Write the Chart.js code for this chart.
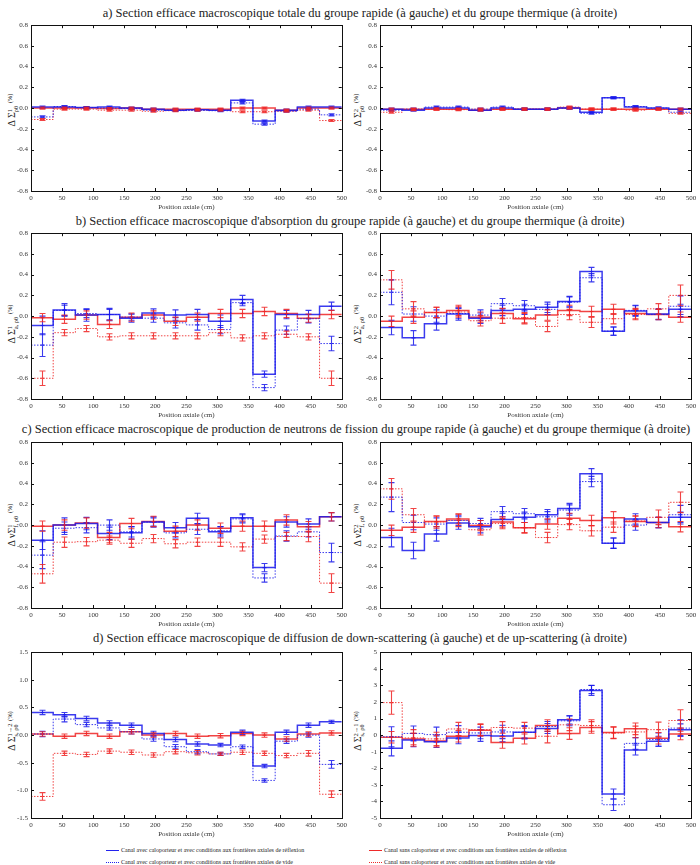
<!DOCTYPE html>
<html>
<head>
<meta charset="utf-8">
<script src="https://cdn.jsdelivr.net/npm/chart.js@4.4.1/dist/chart.umd.min.js"></script>
<style>
  body { margin: 0; background: #fff; }
  #page { position: relative; width: 700px; height: 865px; overflow: hidden; font-family: "Liberation Serif", "DejaVu Serif", serif; color: #222; }
  canvas { position: absolute; }
  .title { position: absolute; width: 700px; text-align: center; font-size: 12.5px; white-space: nowrap; transform: translateY(-50%); }
  .ylab { position: absolute; white-space: nowrap; font-size: 10px; transform: translate(-50%, -50%) rotate(-90deg); }
  .ss { display: inline-block; vertical-align: middle; line-height: 0.95; font-size: 6.5px; text-align: left; }
  .ss span { display: block; }
  .pct { font-size: 6.5px; vertical-align: 3px; }
  .leg { position: absolute; font-size: 6px; white-space: nowrap; transform: translateY(-50%); }
  .leg i { display: inline-block; width: 13px; height: 0; vertical-align: middle; margin-right: 2px; }
</style>
</head>
<body>
<div id="page">
  <div class="title" style="left:10px;top:13px">a) Section efficace macroscopique totale du groupe rapide (à gauche) et du groupe thermique (à droite)</div>
  <div class="title" style="left:0px;top:221px">b) Section efficace macroscopique d'absorption du groupe rapide (à gauche) et du groupe thermique (à droite)</div>
  <div class="title" style="left:6px;top:429px">c) Section efficace macroscopique de production de neutrons de fission du groupe rapide (à gauche) et du groupe thermique (à droite)</div>
  <div class="title" style="left:10px;top:638px">d) Section efficace macroscopique de diffusion de down-scattering (à gauche) et de up-scattering (à droite)</div>

  <div class="ylab" style="left:12px;top:110px">Δ Σ<span class="ss"><span>1</span><span>ρθ</span></span> <span class="pct">(%)</span></div>
  <div class="ylab" style="left:358px;top:110px">Δ Σ<span class="ss"><span>2</span><span>ρθ</span></span> <span class="pct">(%)</span></div>
  <div class="ylab" style="left:12px;top:324px">Δ Σ<span class="ss"><span>1</span><span>a, ρθ</span></span> <span class="pct">(%)</span></div>
  <div class="ylab" style="left:358px;top:324px">Δ Σ<span class="ss"><span>2</span><span>a, ρθ</span></span> <span class="pct">(%)</span></div>
  <div class="ylab" style="left:12px;top:525px">Δ νΣ<span class="ss"><span>1</span><span>f, ρθ</span></span> <span class="pct">(%)</span></div>
  <div class="ylab" style="left:358px;top:525px">Δ νΣ<span class="ss"><span>2</span><span>f, ρθ</span></span> <span class="pct">(%)</span></div>
  <div class="ylab" style="left:12px;top:731px">Δ Σ<span class="ss"><span>1→2</span><span>s, ρθ</span></span> <span class="pct">(%)</span></div>
  <div class="ylab" style="left:358px;top:731px">Δ Σ<span class="ss"><span>2→1</span><span>s, ρθ</span></span> <span class="pct">(%)</span></div>

  <div class="leg" style="left:106px;top:850px"><i style="border-top:1.5px solid #2222ee"></i>Canal avec caloporteur et avec conditions aux frontières axiales de réflexion</div>
  <div class="leg" style="left:106px;top:862px"><i style="border-top:1px dotted #2222ee"></i>Canal avec caloporteur et avec conditions aux frontières axiales de vide</div>
  <div class="leg" style="left:369px;top:850px"><i style="border-top:1.5px solid #ee2a2a"></i>Canal sans caloporteur et avec conditions aux frontières axiales de réflexion</div>
  <div class="leg" style="left:369px;top:862px"><i style="border-top:1px dotted #ee2a2a"></i>Canal sans caloporteur et avec conditions aux frontières axiales de vide</div>
</div>
<script>
// --- DATA (position axiale en cm, écarts en %) ---
const binEdges = [0, 35.7, 71.4, 107.1, 142.9, 178.6, 214.3, 250, 285.7, 321.4, 357.1, 392.9, 428.6, 464.3, 500];
const binCenters = [17.9, 53.6, 89.3, 125, 160.7, 196.4, 232.1, 267.9, 303.6, 339.3, 375, 410.7, 446.4, 482.1];
const xTicks = [0, 50, 100, 150, 200, 250, 300, 350, 400, 450, 500];

// a) totale, groupe rapide
const a1AvecRefl = [0.01, 0.01, 0.005, 0.01, 0.0, -0.01, -0.02, -0.015, -0.02, 0.075, -0.125, -0.02, 0.01, 0.01];
const a1AvecVide = [-0.085, 0.015, 0.005, 0.0, -0.005, -0.02, -0.02, -0.02, -0.025, 0.05, -0.155, -0.03, -0.01, -0.065];
const a1SansRefl = [0.0, 0.0, 0.0, -0.005, 0.0, -0.01, -0.01, -0.01, -0.01, 0.0, 0.0, -0.02, 0.0, 0.0];
const a1SansVide = [-0.11, -0.01, -0.01, -0.02, -0.02, -0.03, -0.025, -0.02, -0.02, -0.035, -0.035, -0.03, -0.02, -0.12];
const a1Err = [0.01, 0.01, 0.01, 0.01, 0.01, 0.01, 0.01, 0.01, 0.01, 0.01, 0.01, 0.01, 0.01, 0.01];
// a) totale, groupe thermique
const a2AvecRefl = [-0.01, -0.02, 0.0, 0.0, -0.02, 0.0, -0.01, -0.01, 0.0, -0.04, 0.10, 0.01, 0.0, -0.01];
const a2AvecVide = [-0.02, -0.01, 0.01, 0.01, -0.01, 0.01, -0.01, -0.01, 0.0, -0.05, 0.10, 0.015, 0.0, -0.04];
const a2SansRefl = [-0.01, -0.01, -0.01, -0.01, -0.02, -0.01, -0.01, -0.01, 0.0, -0.01, -0.01, -0.01, -0.01, -0.01];
const a2SansVide = [-0.04, -0.015, -0.01, -0.015, -0.01, -0.01, -0.01, -0.01, 0.01, -0.01, -0.01, -0.02, -0.01, -0.05];
const a2Err = [0.01, 0.01, 0.01, 0.01, 0.01, 0.01, 0.01, 0.01, 0.01, 0.01, 0.01, 0.01, 0.01, 0.01];

// b) absorption, groupe rapide
const b1AvecRefl = [-0.09, 0.06, 0.01, 0.015, -0.02, 0.03, 0.01, 0.015, -0.05, 0.16, -0.56, 0.015, 0.015, 0.095];
const b1AvecReflErr = [0.09, 0.06, 0.06, 0.06, 0.04, 0.04, 0.05, 0.05, 0.06, 0.04, 0.03, 0.04, 0.04, 0.04];
const b1AvecVide = [-0.28, 0.055, 0.025, 0.015, -0.01, -0.02, -0.065, -0.085, -0.13, 0.13, -0.69, -0.135, -0.025, -0.265];
const b1AvecVideErr = [0.11, 0.05, 0.04, 0.05, 0.03, 0.04, 0.05, 0.05, 0.04, 0.03, 0.03, 0.04, 0.04, 0.07];
const b1SansRefl = [-0.015, -0.03, 0.01, -0.08, -0.01, 0.01, -0.05, -0.01, 0.025, 0.025, 0.045, 0.025, -0.02, 0.015];
const b1SansReflErr = [0.04, 0.04, 0.04, 0.04, 0.04, 0.04, 0.04, 0.04, 0.04, 0.04, 0.04, 0.04, 0.04, 0.04];
const b1SansVide = [-0.60, -0.16, -0.12, -0.20, -0.19, -0.19, -0.19, -0.19, -0.16, -0.21, -0.19, -0.175, -0.20, -0.60];
const b1SansVideErr = [0.07, 0.03, 0.03, 0.03, 0.03, 0.03, 0.03, 0.03, 0.03, 0.03, 0.03, 0.03, 0.03, 0.07];
// b) absorption, groupe thermique
const b2AvecRefl = [-0.11, -0.21, -0.075, 0.02, -0.02, 0.055, 0.065, 0.085, 0.14, 0.43, -0.145, 0.05, 0.02, 0.065];
const b2AvecReflErr = [0.07, 0.07, 0.06, 0.06, 0.05, 0.05, 0.05, 0.05, 0.05, 0.04, 0.04, 0.05, 0.05, 0.05];
const b2AvecVide = [0.23, 0.02, 0.0, 0.025, 0.01, 0.12, 0.10, 0.065, 0.135, 0.37, -0.145, 0.055, 0.015, 0.095];
const b2AvecVideErr = [0.12, 0.07, 0.06, 0.05, 0.05, 0.05, 0.05, 0.05, 0.05, 0.04, 0.04, 0.05, 0.05, 0.10];
const b2SansRefl = [-0.05, -0.01, 0.035, 0.055, -0.01, 0.025, -0.025, 0.01, 0.055, 0.045, 0.065, 0.025, 0.015, -0.01];
const b2SansReflErr = [0.05, 0.06, 0.05, 0.05, 0.05, 0.05, 0.05, 0.05, 0.05, 0.05, 0.05, 0.05, 0.05, 0.05];
const b2SansVide = [0.35, 0.07, 0.035, 0.04, -0.045, -0.02, -0.015, -0.10, 0.015, -0.06, -0.025, 0.015, 0.07, 0.20];
const b2SansVideErr = [0.09, 0.07, 0.05, 0.05, 0.05, 0.05, 0.05, 0.05, 0.05, 0.05, 0.05, 0.05, 0.05, 0.10];

// c) production de neutrons de fission, groupe rapide
const c1AvecRefl = [-0.145, 0.0, 0.015, -0.08, -0.075, 0.03, -0.025, 0.065, -0.065, 0.07, -0.41, 0.03, 0.01, 0.08];
const c1AvecReflErr = [0.09, 0.07, 0.06, 0.06, 0.06, 0.05, 0.05, 0.05, 0.05, 0.04, 0.04, 0.05, 0.05, 0.04];
const c1AvecVide = [-0.29, -0.03, -0.025, 0.0, -0.065, 0.03, -0.075, -0.04, -0.055, 0.06, -0.51, -0.105, -0.065, -0.265];
const c1AvecVideErr = [0.13, 0.06, 0.05, 0.05, 0.05, 0.04, 0.05, 0.05, 0.04, 0.04, 0.04, 0.05, 0.05, 0.09];
const c1SansRefl = [-0.01, 0.0, 0.02, -0.12, 0.015, 0.035, -0.06, 0.0, -0.03, -0.01, -0.01, 0.05, -0.015, 0.08];
const c1SansReflErr = [0.05, 0.05, 0.05, 0.05, 0.05, 0.05, 0.05, 0.05, 0.05, 0.05, 0.05, 0.05, 0.05, 0.04];
const c1SansVide = [-0.47, -0.165, -0.16, -0.145, -0.175, -0.13, -0.18, -0.165, -0.165, -0.21, -0.135, -0.11, -0.11, -0.56];
const c1SansVideErr = [0.09, 0.05, 0.04, 0.04, 0.04, 0.04, 0.04, 0.04, 0.04, 0.04, 0.04, 0.04, 0.05, 0.09];
// c) production de neutrons de fission, groupe thermique
const c2AvecRefl = [-0.12, -0.245, -0.085, 0.02, -0.015, 0.055, 0.075, 0.10, 0.16, 0.495, -0.175, 0.06, 0.025, 0.075];
const c2AvecReflErr = [0.09, 0.08, 0.07, 0.06, 0.06, 0.06, 0.05, 0.05, 0.05, 0.05, 0.05, 0.05, 0.05, 0.05];
const c2AvecVide = [0.27, 0.025, 0.01, 0.045, 0.015, 0.13, 0.11, 0.08, 0.145, 0.42, -0.175, 0.0, 0.025, 0.10];
const c2AvecVideErr = [0.14, 0.07, 0.06, 0.05, 0.05, 0.05, 0.05, 0.05, 0.05, 0.05, 0.05, 0.05, 0.05, 0.09];
const c2SansRefl = [-0.05, -0.02, 0.035, 0.06, -0.005, 0.03, -0.025, 0.01, 0.065, 0.045, 0.07, 0.035, 0.025, -0.015];
const c2SansReflErr = [0.05, 0.05, 0.05, 0.05, 0.05, 0.05, 0.05, 0.05, 0.05, 0.05, 0.06, 0.05, 0.05, 0.05];
const c2SansVide = [0.35, 0.10, 0.03, 0.045, -0.045, 0.015, -0.025, -0.12, 0.005, -0.055, -0.02, 0.04, 0.075, 0.22];
const c2SansVideErr = [0.10, 0.06, 0.06, 0.06, 0.05, 0.05, 0.05, 0.05, 0.05, 0.05, 0.05, 0.05, 0.07, 0.10];

// d) diffusion down-scattering (1->2)
const d1AvecRefl = [0.41, 0.37, 0.30, 0.22, 0.18, 0.03, -0.08, -0.16, -0.18, 0.05, -0.56, 0.05, 0.18, 0.24];
const d1AvecReflErr = [0.04, 0.04, 0.04, 0.04, 0.04, 0.04, 0.04, 0.04, 0.03, 0.04, 0.03, 0.04, 0.04, 0.03];
const d1AvecVide = [0.02, 0.29, 0.19, 0.13, 0.06, -0.07, -0.21, -0.30, -0.34, -0.21, -0.82, -0.11, 0.0, -0.53];
const d1AvecVideErr = [0.05, 0.05, 0.04, 0.04, 0.04, 0.04, 0.04, 0.04, 0.03, 0.03, 0.03, 0.04, 0.04, 0.07];
const d1SansRefl = [0.02, -0.02, 0.03, -0.02, 0.06, 0.0, 0.03, -0.02, -0.01, 0.03, 0.0, -0.07, 0.02, 0.04];
const d1SansReflErr = [0.04, 0.04, 0.04, 0.04, 0.04, 0.04, 0.04, 0.04, 0.04, 0.04, 0.04, 0.04, 0.04, 0.04];
const d1SansVide = [-1.11, -0.33, -0.35, -0.29, -0.31, -0.36, -0.30, -0.32, -0.34, -0.31, -0.33, -0.37, -0.33, -1.07];
const d1SansVideErr = [0.07, 0.04, 0.04, 0.04, 0.04, 0.04, 0.04, 0.04, 0.03, 0.04, 0.04, 0.04, 0.05, 0.06];
// d) diffusion up-scattering (2->1)
const d2AvecRefl = [-0.8, -0.3, -0.4, -0.17, -0.03, -0.05, 0.17, 0.4, 0.92, 2.69, -3.55, -0.9, -0.37, 0.33];
const d2AvecReflErr = [0.45, 0.4, 0.35, 0.35, 0.35, 0.35, 0.35, 0.3, 0.25, 0.3, 0.3, 0.3, 0.3, 0.35];
const d2AvecVide = [-0.1, 0.1, 0.03, 0.17, 0.13, 0.19, 0.17, 0.52, 0.86, 2.75, -4.2, -0.5, -0.27, 0.42];
const d2AvecVideErr = [0.6, 0.45, 0.45, 0.4, 0.35, 0.4, 0.4, 0.3, 0.3, 0.25, 0.35, 0.35, 0.4, 0.5];
const d2SansRefl = [-0.13, -0.23, -0.36, -0.07, 0.29, -0.44, -0.19, 0.58, 0.09, 0.46, 0.15, 0.38, -0.19, 0.07];
const d2SansReflErr = [0.35, 0.35, 0.35, 0.35, 0.35, 0.35, 0.35, 0.35, 0.35, 0.35, 0.35, 0.35, 0.35, 0.35];
const d2SansVide = [1.96, -0.17, -0.23, 0.37, 0.33, 0.46, 0.42, -0.07, 0.62, 0.58, 0.13, 0.19, 0.33, 0.88];
const d2SansVideErr = [0.7, 0.5, 0.4, 0.4, 0.35, 0.35, 0.35, 0.4, 0.35, 0.35, 0.35, 0.35, 0.45, 0.65];

// --- STYLES des 4 séries ---
const BLUE = 'rgba(25,25,235,0.85)';
const RED = 'rgba(238,35,35,0.85)';
const FONT = "'Liberation Serif', 'DejaVu Serif', serif";
const seriesStyles = [
    { color: BLUE, dash: [], width: 1.5 },
    { color: BLUE, dash: [1.5, 1.5], width: 1 },
    { color: RED, dash: [], width: 1.5 },
    { color: RED, dash: [1.5, 1.5], width: 1 }
];

// panel layout: plot area tops, left/right canvases
const panels = [
    { left: 0,   top: 24,  min: -0.8, max: 0.8, step: 0.2, dec: 1, vals: [a1AvecRefl, a1AvecVide, a1SansRefl, a1SansVide], errs: [a1Err, a1Err, a1Err, a1Err] },
    { left: 350, top: 24,  min: -0.8, max: 0.8, step: 0.2, dec: 1, vals: [a2AvecRefl, a2AvecVide, a2SansRefl, a2SansVide], errs: [a2Err, a2Err, a2Err, a2Err] },
    { left: 0,   top: 232, min: -0.8, max: 0.8, step: 0.2, dec: 1, vals: [b1AvecRefl, b1AvecVide, b1SansRefl, b1SansVide], errs: [b1AvecReflErr, b1AvecVideErr, b1SansReflErr, b1SansVideErr] },
    { left: 350, top: 232, min: -0.8, max: 0.8, step: 0.2, dec: 1, vals: [b2AvecRefl, b2AvecVide, b2SansRefl, b2SansVide], errs: [b2AvecReflErr, b2AvecVideErr, b2SansReflErr, b2SansVideErr] },
    { left: 0,   top: 441, min: -0.8, max: 0.8, step: 0.2, dec: 1, vals: [c1AvecRefl, c1AvecVide, c1SansRefl, c1SansVide], errs: [c1AvecReflErr, c1AvecVideErr, c1SansReflErr, c1SansVideErr] },
    { left: 350, top: 441, min: -0.8, max: 0.8, step: 0.2, dec: 1, vals: [c2AvecRefl, c2AvecVide, c2SansRefl, c2SansVide], errs: [c2AvecReflErr, c2AvecVideErr, c2SansReflErr, c2SansVideErr] },
    { left: 0,   top: 651, min: -1.5, max: 1.5, step: 0.5, dec: 1, vals: [d1AvecRefl, d1AvecVide, d1SansRefl, d1SansVide], errs: [d1AvecReflErr, d1AvecVideErr, d1SansReflErr, d1SansVideErr] },
    { left: 350, top: 651, min: -5,   max: 5,   step: 1,   dec: 0, vals: [d2AvecRefl, d2AvecVide, d2SansRefl, d2SansVide], errs: [d2AvecReflErr, d2AvecVideErr, d2SansReflErr, d2SansVideErr] }
];

const PLOT_H = 167;
const PAD_TOP = 6;
const XAXIS_H = 24;

// error bars drawn at bin centres through the chart scales
const errorBars = {
    id: 'errorBars',
    afterDatasetsDraw(chart) {
        const ctx = chart.ctx;
        const xs = chart.scales.x, ys = chart.scales.y;
        ctx.save();
        chart.data.datasets.forEach(ds => {
            if (!ds.errMid) return;
            ctx.strokeStyle = ds.borderColor;
            ctx.lineWidth = 1.1;
            ctx.setLineDash([]);
            ds.errMid.forEach((v, i) => {
                const x = Math.round(xs.getPixelForValue(binCenters[i])) + 0.5;
                const yLo = ys.getPixelForValue(v - ds.errSize[i]);
                const yHi = ys.getPixelForValue(v + ds.errSize[i]);
                const yMid = ys.getPixelForValue(v);
                ctx.beginPath();
                ctx.moveTo(x, yLo); ctx.lineTo(x, yHi);
                ctx.moveTo(x - 3, yLo); ctx.lineTo(x + 3, yLo);
                ctx.moveTo(x - 3, yHi); ctx.lineTo(x + 3, yHi);
                ctx.moveTo(x - 2, yMid); ctx.lineTo(x + 2, yMid);
                ctx.stroke();
            });
        });
        ctx.restore();
    }
};

// box around the plot + inward ticks on all 4 sides
const frame = {
    id: 'frame',
    afterDraw(chart) {
        const ctx = chart.ctx;
        const a = chart.chartArea;
        const xs = chart.scales.x, ys = chart.scales.y;
        ctx.save();
        ctx.strokeStyle = '#111';
        ctx.lineWidth = 1;
        ctx.strokeRect(Math.round(a.left) + 0.5, Math.round(a.top) + 0.5, Math.round(a.right - a.left), Math.round(a.bottom - a.top));
        ctx.beginPath();
        xs.ticks.forEach(t => {
            const x = Math.round(xs.getPixelForValue(t.value)) + 0.5;
            ctx.moveTo(x, a.bottom); ctx.lineTo(x, a.bottom - 3);
            ctx.moveTo(x, a.top); ctx.lineTo(x, a.top + 3);
        });
        ys.ticks.forEach(t => {
            const y = Math.round(ys.getPixelForValue(t.value)) + 0.5;
            ctx.moveTo(a.left, y); ctx.lineTo(a.left + 3, y);
            ctx.moveTo(a.right, y); ctx.lineTo(a.right - 3, y);
        });
        ctx.stroke();
        ctx.restore();
    }
};

const page = document.getElementById('page');

panels.forEach(p => {
    const canvas = document.createElement('canvas');
    canvas.width = 350;
    canvas.height = PAD_TOP + PLOT_H + XAXIS_H;
    canvas.style.left = p.left + 'px';
    canvas.style.top = (p.top - PAD_TOP) + 'px';
    page.appendChild(canvas);

    const isLeft = p.left === 0;
    const yWidth = isLeft ? 31 : 30;
    const padRight = isLeft ? 8 : 9;

    const datasets = p.vals.map((vals, k) => {
        const st = seriesStyles[k];
        // step line: one point per bin edge, last edge repeats the last bin value
        const pts = binEdges.map((x, i) => ({ x: x, y: vals[Math.min(i, vals.length - 1)] }));
        return {
            data: pts,
            stepped: 'before',
            borderColor: st.color,
            borderWidth: st.width,
            borderDash: st.dash,
            pointRadius: 0,
            fill: false,
            errMid: vals,
            errSize: p.errs[k]
        };
    });

    new Chart(canvas.getContext('2d'), {
        type: 'line',
        data: { datasets: datasets },
        options: {
            responsive: false,
            animation: false,
            devicePixelRatio: 1,
            layout: { padding: { top: PAD_TOP, right: padRight, left: 0, bottom: 0 } },
            plugins: { legend: { display: false }, tooltip: { enabled: false } },
            scales: {
                x: {
                    type: 'linear',
                    min: 0, max: 500,
                    afterBuildTicks: s => { s.ticks = xTicks.map(v => ({ value: v })); },
                    afterFit: s => { s.height = XAXIS_H; },
                    grid: { display: false, drawTicks: false },
                    border: { display: false },
                    ticks: { padding: 3, maxRotation: 0, color: '#333', font: { family: FONT, size: 7 } },
                    title: { display: true, text: 'Position axiale (cm)', color: '#333', padding: { top: 0, bottom: 4 }, font: { family: FONT, size: 7 } }
                },
                y: {
                    min: p.min, max: p.max,
                    afterFit: s => { s.width = yWidth; },
                    grid: { display: false, drawTicks: false },
                    border: { display: false },
                    ticks: {
                        stepSize: p.step,
                        padding: 3,
                        color: '#333',
                        font: { family: FONT, size: 7 },
                        callback: v => (Math.abs(v) < 1e-9 ? 0 : v).toFixed(p.dec)
                    }
                }
            }
        },
        plugins: [errorBars, frame]
    });
});
</script>
</body>
</html>
